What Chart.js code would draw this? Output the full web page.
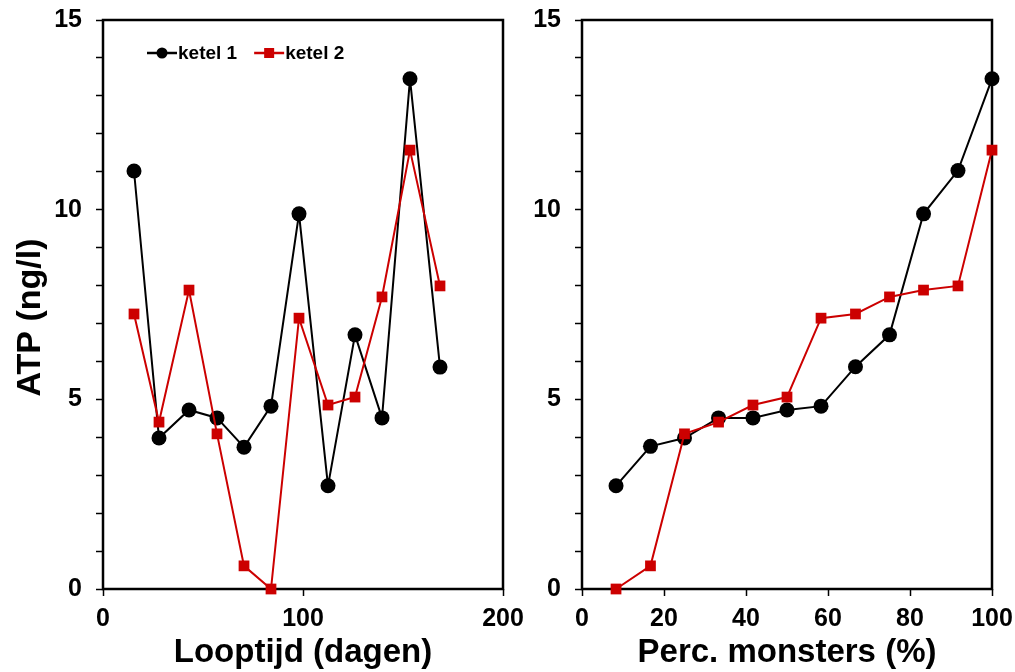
<!DOCTYPE html>
<html>
<head>
<meta charset="utf-8">
<script src="https://cdn.jsdelivr.net/npm/chart.js@4"></script>
<style>
  html, body { margin: 0; padding: 0; background: #fff; }
  body { width: 1015px; height: 672px; position: relative; overflow: hidden; }
  .box { position: absolute; top: -30px; height: 702px; }
  #b1 { left: 0; width: 540px; }
  #b2 { left: 520px; width: 560px; }
</style>
</head>
<body>
<div class="box" id="b1"><canvas id="c1" width="540" height="702"></canvas></div>
<div class="box" id="b2"><canvas id="c2" width="560" height="702"></canvas></div>
<script>
// ---- Data ----
const seriesNames = ['ketel 1', 'ketel 2'];
const looptijdDagen = [15.5, 28, 43, 57, 70.5, 84, 98, 112.5, 126, 139.5, 153.5, 168.5];
const ketel1ATP = [11.02, 3.98, 4.72, 4.51, 3.74, 4.82, 9.89, 2.72, 6.70, 4.51, 13.45, 5.85];
const ketel2ATP = [7.25, 4.40, 7.88, 4.09, 0.61, 0.0, 7.14, 4.85, 5.06, 7.70, 11.57, 7.99];

const percMonsters = [8.3, 16.7, 25, 33.3, 41.7, 50, 58.3, 66.7, 75, 83.3, 91.7, 100];
const ketel1Sorted = [2.72, 3.76, 3.98, 4.51, 4.51, 4.72, 4.82, 5.86, 6.70, 9.89, 11.03, 13.45];
const ketel2Sorted = [0.0, 0.61, 4.09, 4.40, 4.85, 5.06, 7.14, 7.25, 7.70, 7.88, 7.99, 11.57];

const yTickLabels = [0, 5, 10, 15];
const xTicksLeft = [0, 100, 200];
const xTicksRight = [0, 20, 40, 60, 80, 100];

const xTitleLeft = 'Looptijd (dagen)';
const xTitleRight = 'Perc. monsters (%)';
const yTitle = 'ATP (ng/l)';

// ---- Layout (page pixels) ----
const CANVAS_TOP = -30;      // canvas starts above page top
const PLOT_TOP = 20;
const PLOT_BOTTOM = 589;
const PAGE_H = 672;

// ---- Styles ----
const FONT = '"Liberation Sans", Arial, Helvetica, sans-serif';
const BLACK = '#000000';
const RED = '#cc0000';

function pts(xs, ys) { return xs.map((x, i) => ({ x: x, y: ys[i] })); }

const framePlugin = {
  id: 'frame',
  beforeDatasetsDraw(chart) {
    const a = chart.chartArea, ctx = chart.ctx;
    ctx.save();
    ctx.strokeStyle = '#000';
    ctx.lineWidth = 2.5;
    ctx.strokeRect(a.left, a.top, a.right - a.left, a.bottom - a.top);
    ctx.restore();
  }
};

const yTitlePlugin = {
  id: 'yTitleText',
  afterDraw(chart, args, opts) {
    if (!opts || !opts.text) return;
    const ctx = chart.ctx;
    const a = chart.chartArea;
    ctx.save();
    ctx.font = 'bold 34px ' + FONT;
    ctx.fillStyle = '#000';
    ctx.textAlign = 'center';
    ctx.textBaseline = 'middle';
    ctx.translate(31, (a.top + a.bottom) / 2 + 13);
    ctx.rotate(-Math.PI / 2);
    ctx.fillText(opts.text, 0, 0);
    ctx.restore();
  }
};

const insideLegend = {
  id: 'insideLegend',
  afterDraw(chart, args, opts) {
    if (!opts || !opts.show) return;
    const ctx = chart.ctx;
    const a = chart.chartArea;
    const y = a.top + 33;
    ctx.save();
    ctx.font = 'bold 19px ' + FONT;
    ctx.textBaseline = 'middle';
    ctx.textAlign = 'left';
    let x = a.left + 44;
    chart.data.datasets.forEach((ds, i) => {
      const segW = 30;
      ctx.strokeStyle = ds.borderColor;
      ctx.lineWidth = 2.5;
      ctx.beginPath();
      ctx.moveTo(x, y);
      ctx.lineTo(x + segW, y);
      ctx.stroke();
      ctx.fillStyle = ds.borderColor;
      if (ds.pointStyle === 'circle') {
        ctx.beginPath();
        ctx.arc(x + segW / 2, y, 5.5, 0, Math.PI * 2);
        ctx.fill();
      } else {
        ctx.fillRect(x + segW / 2 - 5, y - 5, 10, 10);
      }
      ctx.fillStyle = '#000';
      const tx = x + segW + 1;
      ctx.fillText(ds.label, tx, y + 1);
      x = tx + ctx.measureText(ds.label).width + 17;
    });
    ctx.restore();
  }
};

function makeChart(id, xs, ys1, ys2, xMax, xTitle, yAxisWidth, padRight, showLegend, showYTitle) {
  const canvas = document.getElementById(id);
  return new Chart(canvas, {
    type: 'line',
    data: {
      datasets: [
        {
          label: seriesNames[0],
          data: pts(xs, ys1),
          borderColor: BLACK,
          backgroundColor: BLACK,
          borderWidth: 2,
          pointStyle: 'circle',
          pointRadius: 7.5,
          pointHoverRadius: 7.5,
          pointBorderWidth: 0,
          tension: 0,
          clip: false,
          order: 2
        },
        {
          label: seriesNames[1],
          data: pts(xs, ys2),
          borderColor: RED,
          backgroundColor: RED,
          borderWidth: 2,
          pointStyle: 'rect',
          pointRadius: 7.6,
          pointHoverRadius: 7.6,
          pointBorderWidth: 0,
          tension: 0,
          clip: false,
          order: 1
        }
      ]
    },
    options: {
      responsive: false,
      animation: false,
      devicePixelRatio: 1,
      layout: { padding: { top: PLOT_TOP - CANVAS_TOP, right: padRight, left: 0, bottom: 0 } },
      plugins: {
        legend: { display: false },
        tooltip: { enabled: false },
        insideLegend: { show: showLegend },
        yTitleText: { text: showYTitle ? yTitle : '' }
      },
      scales: {
        x: {
          type: 'linear',
          min: 0,
          max: xMax,
          afterFit(scale) { scale.height = PAGE_H - PLOT_BOTTOM; },
          afterBuildTicks(scale) {
            const arr = xMax === 200 ? xTicksLeft : xTicksRight;
            scale.ticks = arr.map(v => ({ value: v }));
          },
          border: { display: false },
          grid: {
            drawOnChartArea: false,
            drawTicks: true,
            tickLength: 7,
            tickColor: '#000',
            tickWidth: 1.5
          },
          ticks: {
            autoSkip: false,
            maxRotation: 0,
            padding: 8,
            color: '#000',
            font: { family: FONT, size: 25, weight: 'bold' }
          },
          title: {
            display: true,
            text: xTitle,
            color: '#000',
            font: { family: FONT, size: 33, weight: 'bold', lineHeight: 1 },
            padding: { top: 3, bottom: 3 }
          }
        },
        y: {
          type: 'linear',
          min: 0,
          max: 15,
          afterFit(scale) { scale.width = yAxisWidth; },
          afterBuildTicks(scale) {
            const arr = [];
            for (let v = 0; v <= 15; v++) arr.push({ value: v });
            scale.ticks = arr;
          },
          border: { display: false },
          grid: {
            drawOnChartArea: false,
            drawTicks: true,
            tickLength: 7,
            tickColor: '#000',
            tickWidth: 1.5
          },
          ticks: {
            autoSkip: false,
            padding: 14,
            color: '#000',
            font: { family: FONT, size: 25, weight: 'bold' },
            callback(v) { return yTickLabels.includes(v) ? String(v) : ''; }
          },
          title: { display: false }
        }
      }
    },
    plugins: [framePlugin, insideLegend, yTitlePlugin]
  });
}

makeChart('c1', looptijdDagen, ketel1ATP, ketel2ATP, 200, xTitleLeft, 103, 540 - 503, true, true);
makeChart('c2', percMonsters, ketel1Sorted, ketel2Sorted, 100, xTitleRight, 582 - 520, (520 + 560) - 992, false, false);
</script>
</body>
</html>
